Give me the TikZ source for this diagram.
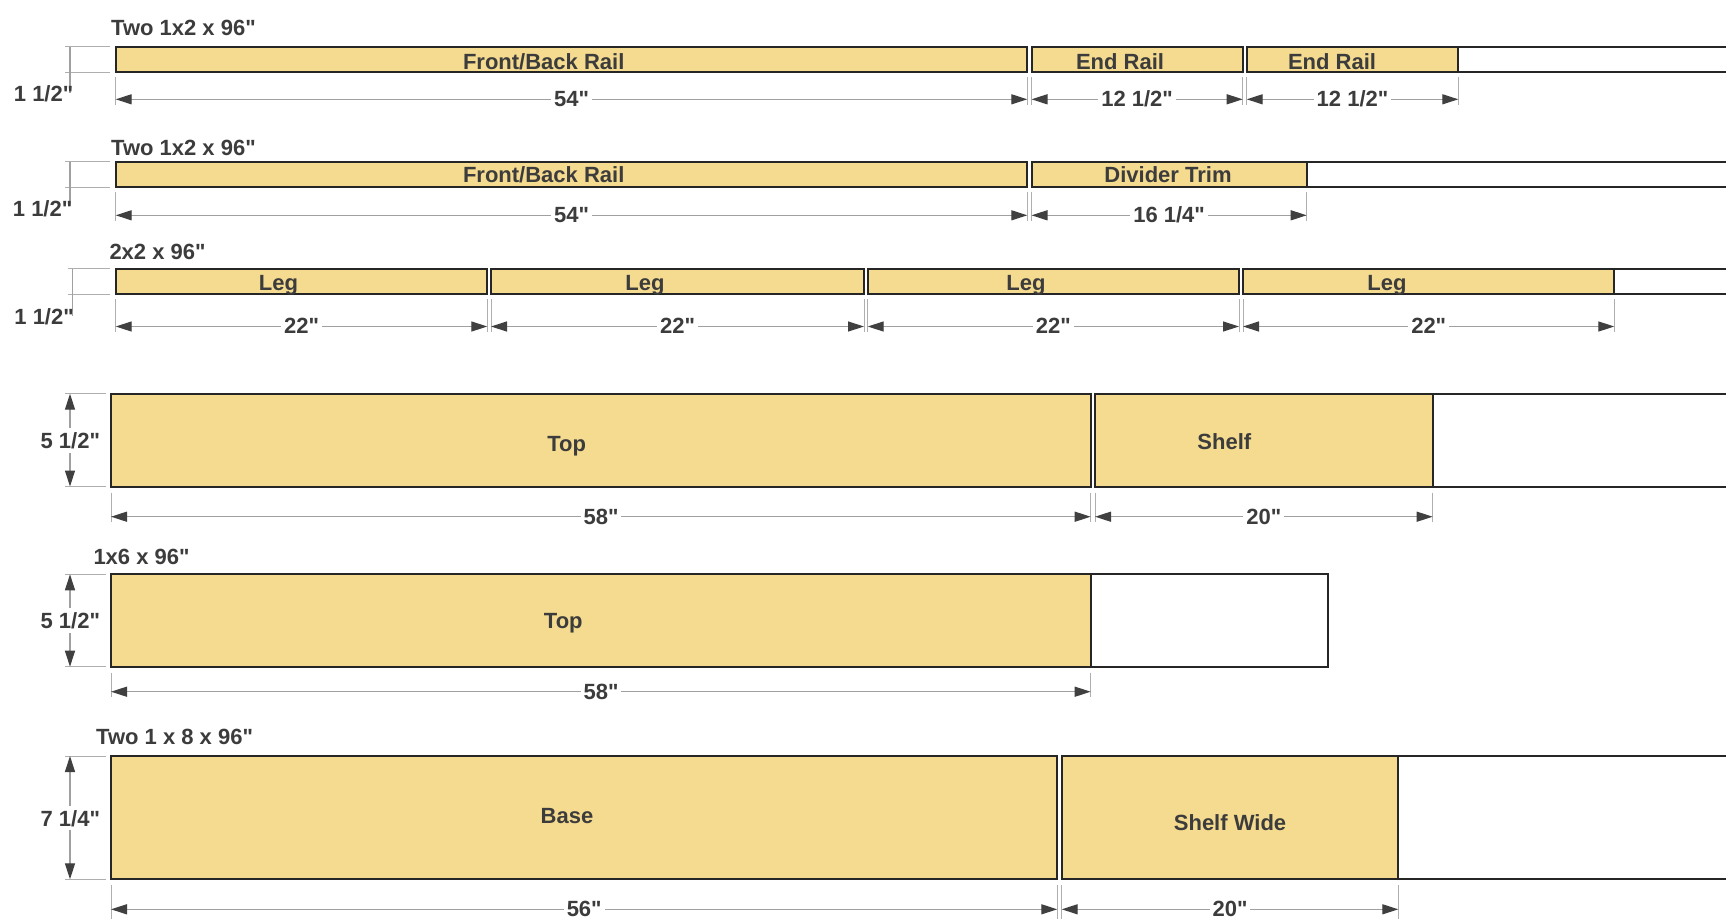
\documentclass[tikz,border=0pt]{standalone}
\usepackage{fontspec}
\setmainfont{Liberation Sans}[Ligatures=TeXOff]
\usetikzlibrary{arrows.meta}
\definecolor{wood}{RGB}{245,219,143}
\definecolor{edge}{RGB}{38,38,38}
\definecolor{dimc}{RGB}{160,160,160}
\definecolor{extc}{RGB}{175,175,175}
\definecolor{arrc}{RGB}{64,64,64}
\definecolor{txt}{RGB}{60,60,60}
\tikzset{
  piece/.style={fill=wood,draw=edge,line width=2pt},
  boardedge/.style={draw=edge,line width=2pt},
  extl/.style={draw=extc,line width=1pt},
  diml/.style={draw=dimc,line width=1.3pt},
  dimarrows/.style={diml,{Triangle[length=16pt,width=10pt,color=arrc]}-{Triangle[length=16pt,width=10pt,color=arrc]}},
  lab/.style={font=\bfseries\fontsize{22}{26}\selectfont,text=txt,inner sep=0pt},
  dimlab/.style={lab,fill=white,inner xsep=3pt,inner ysep=1pt},
}
% #1 name, #2 x1, #3 x2, #4 top, #5 bottom, #6 label x, #7 label baseline, #8 text
\newcommand\cutpiece[8]{%
  \filldraw[piece] (#2,#4) rectangle (#3,#5);
  \node[lab,anchor=base] (#1) at (#6,#7) {#8};
}
% #1 name, #2 x1, #3 x2, #4 dim y, #5 ext top, #6 ext bottom, #7 label x, #8 text
\newcommand\hdim[8]{%
  \draw[extl] (#2,#5) -- (#2,#6);
  \draw[extl] (#3,#5) -- (#3,#6);
  \coordinate (#1a) at (#2,#4);
  \coordinate (#1b) at (#3,#4);
  \draw[dimarrows] (#1a) -- (#1b);
  \node[dimlab,anchor=base] (#1) at (#7,#4+7.4) {#8};
}
% small vertical dimension: #1 name, #2 line x, #3 top, #4 bottom, #5 line end, #6 text right x, #7 text baseline
\newcommand\sdim[7]{%
  \draw[extl] (#2-5,#3) -- (110,#3);
  \draw[extl] (#2-5,#4) -- (110,#4);
  \coordinate (#1a) at (#2,#3);
  \coordinate (#1b) at (#2,#5);
  \draw[diml] (#1a) -- (#1b);
  \node[lab,anchor=base east] (#1) at (#6,#7) {1 1/2"};
}
% large vertical dimension: #1 name, #2 top, #3 bottom, #4 text baseline, #5 text
\newcommand\vdim[5]{%
  \draw[extl] (65,#2) -- (106,#2);
  \draw[extl] (65,#3) -- (106,#3);
  \coordinate (#1a) at (70,#2);
  \coordinate (#1b) at (70,#3);
  \draw[dimarrows] (#1a) -- (#1b);
  \node[dimlab,anchor=base,inner ysep=4pt] (#1) at (70.3,#4) {#5};
}
\begin{document}
\begin{tikzpicture}[x=1pt,y=-1pt]
\useasboundingbox (0,0) rectangle (1726,919);
\fill[white] (0,0) rectangle (1726,919);

% ---------- Row 1 ----------
\node[lab,anchor=base west] (h1) at (111,35) {Two 1x2 x 96"};
\draw[boardedge] (1458.3,46.5) -- (1726,46.5) (1458.3,72) -- (1726,72);
\cutpiece{fb1}{115.7}{1027.3}{46.5}{72}{543.7}{69.7}{Front/Back Rail}
\cutpiece{er1}{1031.5}{1242.7}{46.5}{72}{1120}{69.7}{End Rail}
\cutpiece{er2}{1246.7}{1458.3}{46.5}{72}{1332}{69.7}{End Rail}
\sdim{s1}{70}{46.5}{72}{93}{73.5}{101.7}
\hdim{d1a}{115.7}{1027.3}{99.3}{77}{105}{571.5}{54"}
\hdim{d1b}{1031.5}{1242.7}{99.3}{77}{105}{1137.1}{12 1/2"}
\hdim{d1c}{1246.7}{1458.3}{99.3}{77}{105}{1352.5}{12 1/2"}

% ---------- Row 2 ----------
\node[lab,anchor=base west] (h2) at (111,155) {Two 1x2 x 96"};
\draw[boardedge] (1306.7,161.7) -- (1726,161.7) (1306.7,187) -- (1726,187);
\cutpiece{fb2}{115.7}{1027.3}{161.7}{187}{543.7}{182.3}{Front/Back Rail}
\cutpiece{dt}{1031.5}{1306.7}{161.7}{187}{1168}{182.3}{Divider Trim}
\sdim{s2}{70}{161.7}{187}{206}{72.5}{216.7}
\hdim{d2a}{115.7}{1027.3}{215.3}{192}{221}{571.5}{54"}
\hdim{d2b}{1031.5}{1306.7}{215.3}{192}{221}{1169.1}{16 1/4"}

% ---------- Row 3 ----------
\node[lab,anchor=base west] (h3) at (109.3,259.3) {2x2 x 96"};
\draw[boardedge] (1614.3,268.5) -- (1726,268.5) (1614.3,294) -- (1726,294);
\cutpiece{leg1}{115.7}{487.3}{268.5}{294}{278.5}{290.7}{Leg}
\cutpiece{leg2}{491}{864}{268.5}{294}{645}{290.7}{Leg}
\cutpiece{leg3}{867.7}{1239}{268.5}{294}{1026}{290.7}{Leg}
\cutpiece{leg4}{1243}{1614.3}{268.5}{294}{1387}{290.7}{Leg}
\sdim{s3}{72.5}{268.5}{294}{316}{74}{324}
\hdim{d3a}{115.7}{487.3}{326.5}{299.3}{331.7}{301.5}{22"}
\hdim{d3b}{491}{864}{326.5}{299.3}{331.7}{677.5}{22"}
\hdim{d3c}{867.7}{1239}{326.5}{299.3}{331.7}{1053.4}{22"}
\hdim{d3d}{1243}{1614.3}{326.5}{299.3}{331.7}{1428.7}{22"}

% ---------- Row 4 ----------
\draw[boardedge] (1432.7,393.7) -- (1726,393.7) (1432.7,486.5) -- (1726,486.5);
\cutpiece{top1}{111}{1090.7}{393.7}{486.5}{566.7}{451}{Top}
\cutpiece{shelf}{1095}{1432.7}{393.7}{486.5}{1224.3}{449.3}{Shelf}
\vdim{v4}{393.7}{486.5}{448.3}{5 1/2"}
\hdim{d4a}{111}{1090.7}{516.7}{492.7}{521.7}{601}{58"}
\hdim{d4b}{1095}{1432.7}{516.7}{492.7}{521.7}{1263.9}{20"}

% ---------- Row 5 ----------
\node[lab,anchor=base west] (h5) at (93.3,564.3) {1x6 x 96"};
\draw[boardedge,fill=white] (1090.7,574.3) rectangle (1327.7,666.7);
\cutpiece{top2}{111}{1090.7}{574.3}{666.7}{563.3}{628.3}{Top}
\vdim{v5}{574.3}{666.7}{628.3}{5 1/2"}
\hdim{d5a}{111}{1090.7}{691.7}{672.5}{697}{601}{58"}

% ---------- Row 6 ----------
\node[lab,anchor=base west] (h6) at (96,744) {Two 1 x 8 x 96"};
\draw[boardedge] (1398.3,756) -- (1726,756) (1398.3,879.3) -- (1726,879.3);
\cutpiece{base}{111}{1057.3}{756}{879.3}{567}{823}{Base}
\cutpiece{sw}{1061.7}{1398.3}{756}{879.3}{1230}{830}{Shelf Wide}
\vdim{v6}{756}{879.3}{826}{7 1/4"}
\hdim{d6a}{111}{1057.3}{909.3}{885}{919}{584.2}{56"}
\hdim{d6b}{1061.7}{1398.3}{909.3}{885}{919}{1230}{20"}
\end{tikzpicture}
\end{document}
